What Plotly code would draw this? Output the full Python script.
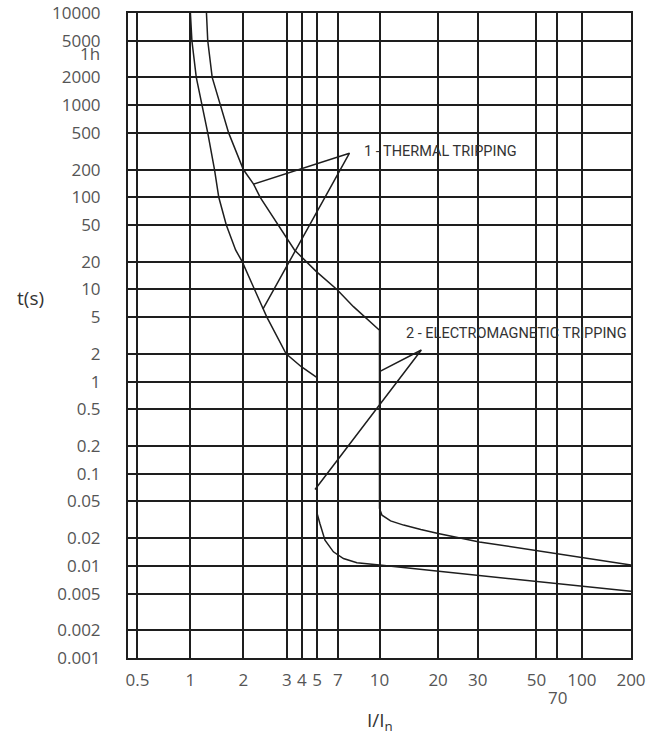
import numpy as np
import plotly.graph_objects as go

# x axis of the catalogue chart is not a clean log scale, so ticks get their own positions
x_tick_vals = [0.5, 1, 2, 3, 4, 5, 7, 10, 20, 30, 50, 70, 100, 200]
x_tick_text = ["0.5", "1", "2", "3", "4", "5", "7", "10", "20", "30", "50", "", "100", "200"]
x_tick_pos = [-0.28, 0.0, 0.28, 0.51, 0.59, 0.67, 0.78, 1.0, 1.31, 1.52, 1.83, 1.94, 2.07, 2.33]

y_tick_vals = [0.001, 0.002, 0.005, 0.01, 0.02, 0.05, 0.1, 0.2, 0.5, 1, 2, 5, 10, 20, 50,
               100, 200, 500, 1000, 2000, 5000, 10000]
y_tick_text = ["0.001", "0.002", "0.005", "0.01", "0.02", "0.05", "0.1", "0.2", "0.5", "1", "2",
               "5", "10", "20", "50", "100", "200", "500", "1000", "2000", "5000", "10000"]

# curve 1 (lower / left)
c1_i = [1.0, 1.02, 1.08, 1.166, 1.255, 1.371, 1.45, 1.6, 1.807, 1.97, 2.22, 2.40, 2.49, 2.98,
        3.95, 5.0, 5.0, 5.23, 5.68, 6.51, 7.34, 8.24, 10.0, 200]
c1_t = [10000, 5000, 2000, 1000, 500, 200, 100, 50, 26.8, 20, 10, 6.1, 5, 2,
        1.45, 1.1, 0.037, 0.0288, 0.019, 0.0142, 0.012, 0.0108, 0.0102, 0.0053]

# curve 2 (upper / right)
c2_i = [1.234, 1.255, 1.33, 1.48, 1.65, 2.0, 2.2, 2.34, 2.76, 3.47, 4.95, 6.89, 8.0, 10.0,
        10.0, 10.3, 11.4, 13.3, 16.3, 20, 30.4, 200]
c2_t = [10000, 5000, 2000, 1000, 500, 200, 139, 100, 50, 26.8, 15.6, 10, 6.5, 3.6,
        0.042, 0.0355, 0.0308, 0.0277, 0.0248, 0.0225, 0.0182, 0.0102]

# leader lines of the two labels
lead1_i = [2.20, 7.73, 2.40]
lead1_t = [139, 301, 6.1]
lead2_i = [10.0, 16.4, 4.85]
lead2_t = [1.28, 2.2, 0.0675]

labels = ["1 - THERMAL TRIPPING", "2 - ELECTROMAGNETIC TRIPPING"]
label_i = [8.6, 13.3]
label_t = [311, 3.34]


def warp(v):
    return np.interp(np.log10(v), np.log10(x_tick_vals), x_tick_pos)


ink = "#1e1e1e"
fig = go.Figure()
for xs, ys in [(c1_i, c1_t), (c2_i, c2_t), (lead1_i, lead1_t), (lead2_i, lead2_t)]:
    fig.add_trace(go.Scatter(x=warp(xs), y=ys, mode="lines",
                             line=dict(color=ink, width=1.5), showlegend=False, hoverinfo="skip"))

for txt, xi, ti in zip(labels, label_i, label_t):
    fig.add_annotation(x=float(warp(xi)), y=np.log10(ti), text=txt, showarrow=False,
                       xanchor="left", yanchor="middle",
                       font=dict(family="Roboto", size=14.5, color="#333"))

tick_font = dict(family="Open Sans", size=17, color="#555")
# "70" sits one line lower, under 50
fig.add_annotation(x=float(warp(70)), yref="paper", y=-0.062, text="70", showarrow=False,
                   xanchor="center", yanchor="middle", font=tick_font)
fig.add_annotation(xref="paper", x=-0.0517, y=np.log10(3600), text="1h", showarrow=False,
                   xanchor="right", yanchor="middle", font=tick_font)
fig.add_annotation(xref="paper", yref="paper", x=-0.193, y=0.558, text="t(s)", showarrow=False,
                   xanchor="center", yanchor="middle", font=dict(family="Open Sans", size=19, color="#333"))
fig.add_annotation(xref="paper", yref="paper", x=0.5, y=-0.098, text="I/I<sub>n</sub>", showarrow=False,
                   xanchor="center", yanchor="middle", font=dict(family="Open Sans", size=19, color="#333"))

fig.update_xaxes(type="linear", range=[-0.33, 2.33], tickvals=x_tick_pos, ticktext=x_tick_text,
                 showgrid=True, gridcolor=ink, gridwidth=1.5, zeroline=False,
                 showline=True, mirror=True, linecolor=ink, linewidth=2, automargin=False,
                 ticks="", ticklabelstandoff=6, tickangle=0, tickfont=tick_font)
fig.update_yaxes(type="log", range=[-3, 4], tickvals=y_tick_vals, ticktext=y_tick_text,
                 showgrid=True, gridcolor=ink, gridwidth=1.5, zeroline=False,
                 showline=True, mirror=True, linecolor=ink, linewidth=2, automargin=False,
                 ticks="", ticklabelstandoff=22, tickfont=tick_font)

fig.update_layout(width=661, height=736, margin=dict(l=128, r=30, t=13, b=78),
                  plot_bgcolor="white", paper_bgcolor="white")

fig.write_html("out.html", config={"displayModeBar": False},
               post_script="document.body.style.margin = '0';")
